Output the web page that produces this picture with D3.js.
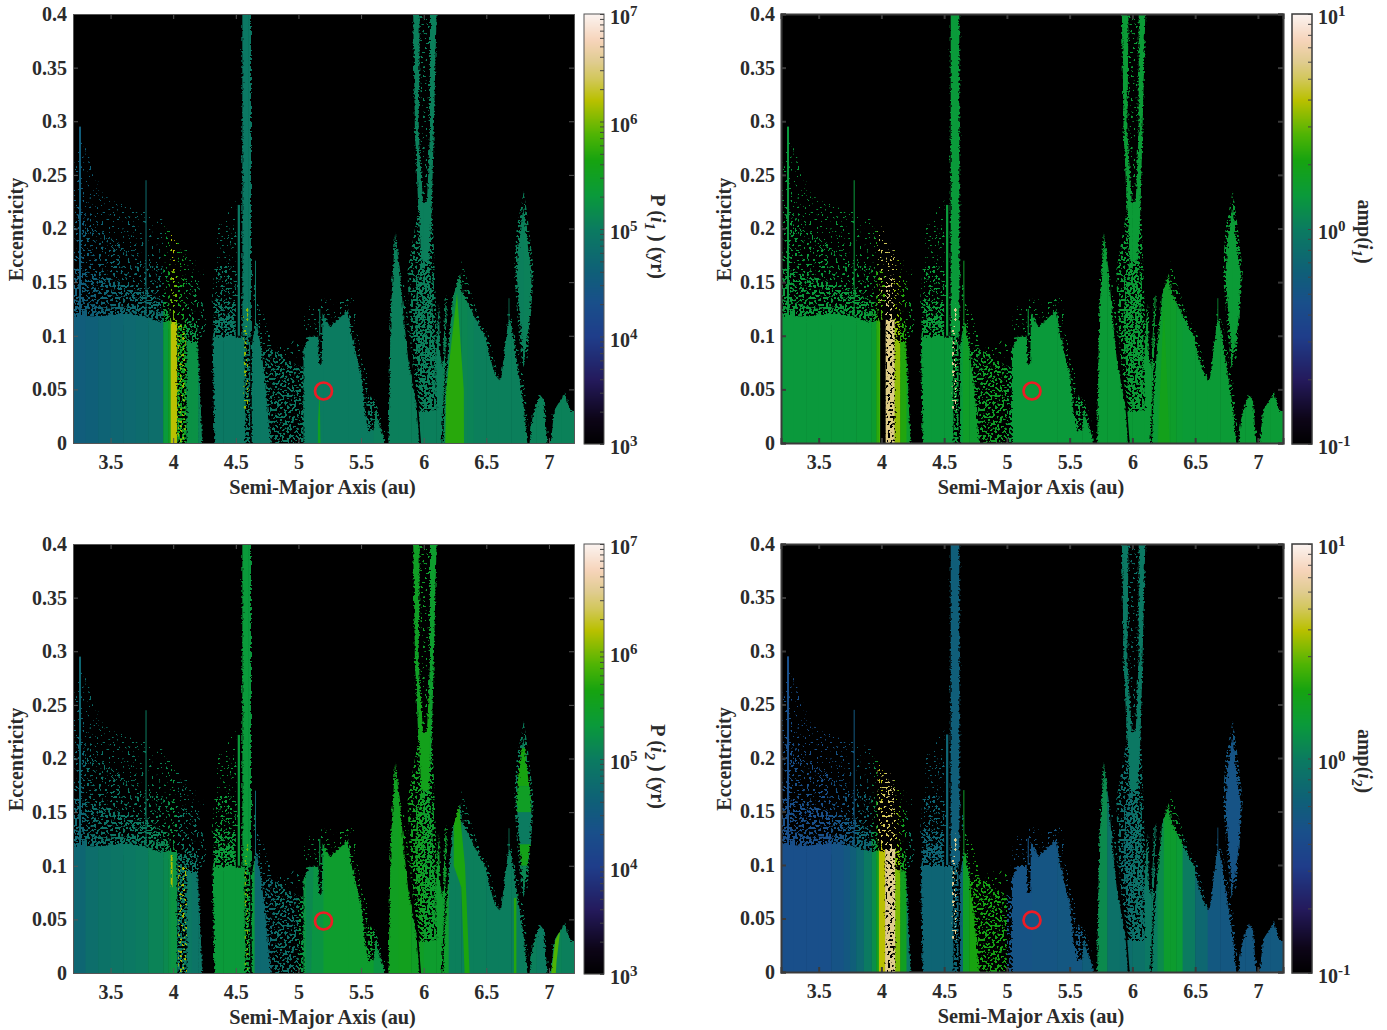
<!DOCTYPE html>
<html><head><meta charset="utf-8"><script src="https://cdn.jsdelivr.net/npm/d3@7"></script>
<style>html,body{margin:0;background:#fff}svg{display:block}text{font-family:"Liberation Serif",serif;font-weight:bold;fill:#2b2b2b}</style></head><body><div id="c"></div>
<script>
// ---------- data ----------
const xTicks=[3.5,4,4.5,5,5.5,6,6.5,7];
const yTicks=[0,.05,.1,.15,.2,.25,.3,.35,.4];
const aEdges=[3.2,3.3,3.4,3.5,3.6,3.7,3.8,3.92,3.96,3.98,4.03,4.1,4.15,4.2,4.3,4.4,4.5,4.6,4.65,4.7,4.8,5.0,5.2,5.4,5.6,5.7,5.8,5.9,6.0,6.1,6.15,6.2,6.25,6.3,6.35,6.4,6.5,6.6,6.7,6.8,6.9,7.0,7.1,7.2];
const period1=[3.6e4,4e4,4.5e4,5e4,5.5e4,6e4,6.5e4,2.1e5,3e5,1.6e6,3e5,1.7e5,1.7e5,1.2e5,9e4,9e4,9e4,9e4,9e4,9e4,9e4,1e5,1e5,1e5,1.1e5,1.1e5,1.1e5,1.1e5,1.1e5,1.1e5,1.2e5,1.3e5,1.3e5,1.3e5,1.2e5,1.1e5,1.1e5,1.1e5,1.1e5,1.15e5,1.15e5,1.15e5,1.15e5];
const amp1=[1.42,1.42,1.42,1.42,1.42,1.42,1.45,1.6,2.3,2.6,5.8,3.4,2.2,1.6,1.45,1.45,1.45,1.45,1.7,1.6,1.7,1.45,1.45,1.45,1.45,1.5,1.5,1.5,1.5,1.5,1.5,1.6,1.7,1.65,1.55,1.5,1.5,1.5,1.5,1.5,1.5,1.5,1.5];
const period2=[5e4,6.5e4,7.5e4,8.3e4,9e4,1e5,1.2e5,1.4e5,1.6e5,1.8e5,9e4,9e4,8e4,8e4,2.1e5,2.1e5,2.1e5,2e5,5.5e4,5.5e4,7e4,1.8e5,2.6e5,2.6e5,1.8e5,3.2e5,3.4e5,3e5,2.6e5,2.6e5,2.6e5,1.1e5,1.1e5,1.1e5,1.1e5,1.1e5,1.05e5,1.05e5,1.05e5,1.1e5,1e5,1.2e5,1.1e5];
const amp2=[.46,.46,.46,.46,.5,.55,.7,1.25,1.9,4,5.8,3.2,1.8,.95,.68,.68,.68,.68,1.7,2.1,2,.5,.52,.54,.62,1.2,.85,.8,.85,.95,1,1.2,1.6,1.6,1.5,1,.72,.55,.54,.54,.54,.55,.56];
const circleA=5.2, circleE=.048;

const solidRegions=[
 [[3.17,-.01],[3.17,.119],[3.4,.118],[3.655,.121],[3.8,.117],[3.921,.112],[4.033,.112],[4.033,-.01]],
 [[4.107,-.01],[4.107,.095],[4.19,.095],[4.21,.06],[4.235,-.01]],
 [[4.33,-.01],[4.315,.099],[4.57,.099],[4.575,-.01]],
 [[4.552,.1],[4.552,.41],[4.621,.41],[4.621,.1]],
 [[4.627,-.01],[4.627,.09],[4.655,.112],[4.668,.112],[4.7,.09],[4.74,.05],[4.786,-.01]],
 [[5.04,-.01],[5.04,.088],[5.09,.099],[5.158,.099],[5.165,.074],[5.185,.074],[5.192,.121],[5.252,.1085],[5.398,.124],[5.425,.099],[5.505,.062],[5.531,.028],[5.56,.01],[5.6,.012],[5.615,.03],[5.64,.018],[5.68,.006],[5.692,-.01]],
 [[5.718,-.01],[5.736,.121],[5.771,.1955],[5.811,.161],[5.838,.121],[5.877,.077],[5.944,.034],[5.97,-.01]],
 [[5.975,-.01],[5.955,.03],[6.1,.03],[6.09,.077],[6.122,.13],[6.13,.085],[6.15,.07],[6.175,.135],[6.186,.138],[6.17,.07],[6.148,.015],[6.14,-.01]],
 [[6.152,-.01],[6.17,.046],[6.197,.09],[6.236,.138],[6.29,.158],[6.31,.14],[6.42,.115],[6.49,.099],[6.55,.071],[6.6,.058],[6.62,.062],[6.676,.115],[6.69,.115],[6.742,.077],[6.8,.034],[6.835,-.01]],
 [[6.835,-.01],[6.87,.025],[6.928,.045],[6.96,.04],[6.995,-.01]],
 [[7.008,-.01],[7.04,.03],[7.128,.047],[7.17,.03],[7.23,.03],[7.23,-.01]],
 [[6.795,.22],[6.825,.19],[6.862,.158],[6.85,.12],[6.82,.09],[6.8,.08],[6.785,.09],[6.765,.12],[6.742,.16],[6.76,.19]],
 [[5.915,.41],[5.93,.29],[5.955,.225],[5.965,.21],[5.98,.17],[6.045,.17],[6.06,.21],[6.066,.225],[6.08,.29],[6.105,.41],[6.05,.41],[6.05,.29],[6.026,.225],[5.995,.225],[5.96,.29],[5.97,.41]]
];
const denseSpecks=[
 [[3.17,.115],[3.17,.135],[3.45,.126],[3.7,.128],[3.98,.118],[4.0,.105]],
 [[4.033,-.01],[4.033,.112],[4.11,.11],[4.107,-.01]],
 [[4.315,.095],[4.33,.115],[4.5,.122],[4.5,.095]],
 [[5.98,.03],[5.95,.07],[5.93,.12],[5.95,.15],[5.98,.17],[6.05,.17],[6.07,.13],[6.09,.09],[6.1,.03]],
 [[4.575,.125],[4.575,-.01],[4.615,-.01],[4.615,.125]]
];
const mediumSpecks=[
 [[3.17,.135],[3.17,.165],[3.45,.155],[3.7,.145],[3.97,.13],[3.97,.118],[3.45,.126]],
 [[4.107,.09],[4.1,.115],[4.19,.112],[4.24,-.01],[4.19,-.01]],
 [[4.315,.11],[4.34,.135],[4.5,.13],[4.5,.11]],
 [[4.74,.05],[4.7,.085],[4.75,.09],[4.95,.075],[5.04,.07],[5.04,-.01],[4.78,-.01]],
 [[5.87,.16],[5.9,.08],[5.97,.03],[6.12,.03],[6.1,.12],[6.07,.22],[5.96,.22]],
 [[5.53,.03],[5.56,.045],[5.62,.04],[5.7,-.01],[5.52,-.01]],
 [[6.742,.2],[6.72,.16],[6.76,.1],[6.79,.07],[6.83,.08],[6.88,.16],[6.83,.21],[6.8,.235]]
];
const sparseSpecks=[
 [[3.17,.16],[3.17,.23],[3.4,.2],[3.75,.17],[4.0,.16],[4.2,.15],[4.27,.11],[4.2,.09],[3.97,.115],[3.4,.15]],
 [[4.3,.12],[4.33,.165],[4.5,.165],[4.5,.12]],
 [[6.3,.17],[6.42,.125],[6.52,.1],[6.6,.06],[6.48,.09],[6.3,.14]],
 [[6.66,.13],[6.72,.11],[6.8,.06],[6.84,.01],[6.78,.02],[6.7,.08]],
 [[5.83,.16],[5.86,.13],[5.9,.09],[5.84,.12]]
];
const faintSpecks=[
 [[3.17,.23],[3.25,.29],[3.45,.23],[3.9,.21],[4.25,.16],[4.2,.14],[3.2,.2]],
 [[4.35,.2],[4.5,.23],[4.52,.13],[4.35,.13]],
 [[4.62,.17],[4.72,.12],[4.8,.09],[5.04,.1],[5.05,.125],[5.2,.135],[5.44,.135],[5.5,.08],[5.6,.05],[5.7,.01],[5.6,.01],[5.52,.03],[5.42,.1],[5.2,.09],[5.04,.08],[4.75,.08],[4.66,.1]],
 [[5.97,.41],[6.05,.41],[6.05,.23],[5.98,.23]]
];
// a, bottom e, top e, half width in au
const thinSpikes=[[3.256,.115,.295,.008],[3.783,.115,.245,.004],[4.524,.1,.222,.009],[4.657,.11,.17,.004],[5.17,.1,.125,.004],[6.681,.11,.135,.003]];
// black gaps that all panels have, or only the first amplitude panel
const cutsAll=[[[5.84,.125],[5.88,.08],[5.945,.036],[5.972,-.01],[5.985,-.01],[5.955,.036],[5.89,.08],[5.85,.125]]];
const cutsAmp1=[[[3.99,-.01],[3.99,.115],[4.035,.115],[4.035,-.01]]];
const overlays1=[{pts:[[6.17,-.01],[6.18,.05],[6.266,.14],[6.32,.05],[6.322,-.01]],v:5.2e5},{pts:[[5.155,-.01],[5.155,.02],[5.17,.05],[5.177,-.01]],v:3.2e5}];
const overlays2=[{pts:[[6.2,-.01],[6.25,.13],[6.3,-.01]],v:1.9}];
const overlays3=[{pts:[[5.96,.26],[5.96,.17],[6.05,.17],[6.05,.26]],v:3.6e5},{pts:[[6.24,.15],[6.28,.16],[6.33,.1],[6.37,-.01],[6.33,-.01],[6.3,.08],[6.24,.1]],v:4.6e5},{pts:[[7.008,-.01],[7.05,.03],[7.09,.04],[7.06,.01],[7.05,-.01]],v:7.5e5},{pts:[[6.72,-.01],[6.72,.07],[6.74,.07],[6.74,-.01]],v:5e5},{pts:[[6.74,.21],[6.74,.174],[6.86,.174],[6.86,.21]],v:4.4e5},{pts:[[6.74,.15],[6.74,.12],[6.86,.12],[6.86,.15]],v:1e5},{pts:[[6.74,.12],[6.74,.1],[6.86,.1],[6.86,.12]],v:3.8e5},{pts:[[6.74,.174],[6.74,.15],[6.86,.15],[6.86,.174]],v:3e5},{pts:[[6.74,.1],[6.74,.07],[6.86,.07],[6.86,.1]],v:1.3e5},{pts:[[5.06,-.01],[5.06,.1],[5.12,.1],[5.1,-.01]],v:1.4e5}];
const overlays4=[{pts:[[6.74,.24],[6.74,.07],[6.87,.07],[6.87,.24]],v:.5},{pts:[[4.55,.1],[4.55,.41],[4.63,.41],[4.63,.1]],v:.62},{pts:[[5.9,.17],[5.9,.4],[6.12,.4],[6.12,.17]],v:.95},{pts:[[3.75,-.01],[3.75,.13],[3.8,.13],[3.8,-.01]],v:.62},{pts:[[3.8,-.01],[3.8,.13],[3.86,.13],[3.86,-.01]],v:.74},{pts:[[3.86,-.01],[3.86,.13],[3.92,.13],[3.92,-.01]],v:.98}];
const accents1=[{pts:[[4.03,0],[4.03,.11],[4.1,.11],[4.1,0]],v:1.2e6,d:"sparse"},{pts:[[3.98,.11],[3.98,.16],[4.03,.16],[4.03,.11]],v:9e5,d:"sparse"},{pts:[[4.56,.03],[4.56,.13],[4.6,.13],[4.6,.03]],v:1.2e6,d:"sparse"}];
const accents2=[{pts:[[4.56,.03],[4.56,.13],[4.6,.13],[4.6,.03]],v:6,d:"sparse"},{pts:[[3.97,.13],[3.97,.21],[4.12,.17],[4.12,.13]],v:5,d:"faint"},{pts:[[4.035,0],[4.035,.115],[4.105,.115],[4.105,0]],v:5.8,d:"full"}];
const accents3=[{pts:[[4.04,0],[4.04,.1],[4.11,.1],[4.11,0]],v:1.4e6,d:"sparse"},{pts:[[3.98,.08],[3.98,.11],[3.995,.11],[3.995,.08]],v:1.5e6,d:"full"},{pts:[[4.57,0],[4.57,.12],[4.6,.12],[4.6,0]],v:1e6,d:"sparse"}];
const accents4=[{pts:[[4.56,.03],[4.56,.13],[4.6,.13],[4.6,.03]],v:6,d:"sparse"},{pts:[[3.97,.12],[3.97,.19],[4.12,.17],[4.12,.12]],v:5,d:"sparse"},{pts:[[4.03,0],[4.03,.115],[4.11,.115],[4.11,0]],v:6,d:"full"}];
const colorStops=[[0,"#000000"],[.06,"#0d0518"],[.15,"#241a5c"],[.25,"#1f3d8a"],[.33,"#194f8a"],[.4,"#0f5f78"],[.5,"#0b7b60"],[.58,"#0a9a3a"],[.66,"#16a310"],[.72,"#4fb404"],[.8,"#b9c000"],[.85,"#d2c75a"],[.89,"#e0cc90"],[.94,"#f6d4ba"],[1,"#fbf3f0"]];
const panels=[
 {id:1,x:73,y:14,w:501,h:429,vals:period1,dom:[1e3,1e7],cuts:[],ov:overlays1,ac:accents1,bx:584,lx:651,sub:"1",kind:"P",strong:false},
 {id:2,x:781,y:14,w:502,h:429,vals:amp1,dom:[.1,10],cuts:cutsAmp1,ov:overlays2,ac:accents2,bx:1292,lx:1358,sub:"1",kind:"amp",strong:true},
 {id:3,x:73,y:544,w:501,h:429,vals:period2,dom:[1e3,1e7],cuts:[],ov:overlays3,ac:accents3,bx:584,lx:651,sub:"2",kind:"P",strong:false},
 {id:4,x:781,y:544,w:502,h:428,vals:amp2,dom:[.1,10],cuts:[],ov:overlays4,ac:accents4,bx:1292,lx:1358,sub:"2",kind:"amp",strong:true}
];
// ---------- drawing ----------
const W=1387,H=1030;
const svg=d3.select("#c").append("svg").attr("width",W).attr("height",H);
const defs=svg.append("defs");
const cmap=d3.scaleLinear().domain(colorStops.map(d=>d[0])).range(colorStops.map(d=>d[1])).interpolate(d3.interpolateRgb);
function speckFilter(id,thr,seed){
 const f=defs.append("filter").attr("id",id).attr("filterUnits","userSpaceOnUse").attr("x",-10).attr("y",-10).attr("width",560).attr("height",460).attr("color-interpolation-filters","sRGB");
 f.append("feTurbulence").attr("type","fractalNoise").attr("baseFrequency",.42).attr("numOctaves",1).attr("seed",seed).attr("result","n");
 const s=30;
 f.append("feColorMatrix").attr("in","n").attr("type","matrix").attr("values",`0 0 0 0 1 0 0 0 0 1 0 0 0 0 1 ${s} 0 0 0 ${-s*thr}`).attr("result","m");
 f.append("feComposite").attr("in","SourceGraphic").attr("in2","m").attr("operator","in");
}
speckFilter("full",.4,2);speckFilter("dense",.47,2);speckFilter("medium",.53,5);speckFilter("sparse",.6,8);speckFilter("faint",.66,11);
const rough=defs.append("filter").attr("id","rough").attr("filterUnits","userSpaceOnUse").attr("x",-10).attr("y",-10).attr("width",560).attr("height",460).attr("color-interpolation-filters","sRGB");
rough.append("feTurbulence").attr("type","fractalNoise").attr("baseFrequency",.4).attr("numOctaves",2).attr("seed",4).attr("result","n");
rough.append("feDisplacementMap").attr("in","SourceGraphic").attr("in2","n").attr("scale",5).attr("xChannelSelector","R").attr("yChannelSelector","G");

panels.forEach(p=>{
 const x=d3.scaleLinear().domain([3.2,7.2]).range([0,p.w]);
 const y=d3.scaleLinear().domain([0,.4]).range([p.h,0]);
 const line=d3.line().x(d=>x(d[0])).y(d=>y(d[1])).curve(d3.curveLinearClosed);
 const cs=d3.scaleLog().domain(p.dom).range([0,1]);
 const col=v=>cmap(cs(v));
 const g=svg.append("g").attr("transform",`translate(${p.x},${p.y})`);
 g.append("rect").attr("width",p.w).attr("height",p.h).attr("fill","#000");
 defs.append("clipPath").attr("id","plot"+p.id).append("rect").attr("width",p.w).attr("height",p.h);
 const addMask=(id,build)=>{const m=defs.append("mask").attr("id",id).attr("maskUnits","userSpaceOnUse").attr("x",0).attr("y",0).attr("width",p.w).attr("height",p.h).style("mask-type","luminance");build(m);};
 const cuts=m=>{m.selectAll("path.cut").data(cutsAll.concat(p.cuts)).join("path").attr("class","cut").attr("d",line).attr("fill","#000");};
 addMask("solid"+p.id,m=>{
  m.append("g").attr("filter","url(#rough)").selectAll("path").data(solidRegions).join("path").attr("d",line).attr("fill","#fff");
  m.append("g").selectAll("rect").data(thinSpikes).join("rect").attr("x",d=>x(d[0]-d[3])).attr("width",d=>x(d[0]+d[3])-x(d[0]-d[3])).attr("y",d=>y(d[2])).attr("height",d=>y(d[1])-y(d[2])).attr("fill","#fff");
  cuts(m);
 });
 addMask("speck"+p.id,m=>{
  [["dense",denseSpecks],["medium",mediumSpecks],["sparse",sparseSpecks],["faint",faintSpecks]].forEach(([f,list])=>{
   m.append("g").attr("filter",`url(#${f})`).selectAll("path").data(list).join("path").attr("d",line).attr("fill","#fff");
  });
  cuts(m);
 });
 const columns=sel=>sel.selectAll("rect").data(p.vals).join("rect")
   .attr("x",(d,i)=>x(aEdges[i])).attr("width",(d,i)=>x(aEdges[i+1])-x(aEdges[i])+.5)
   .attr("y",0).attr("height",p.h).attr("fill",d=>col(d));
 columns(g.append("g").attr("mask",`url(#speck${p.id})`));
 const sg=g.append("g").attr("mask",`url(#solid${p.id})`);
 columns(sg.append("g"));
 sg.append("g").selectAll("path").data(p.ov).join("path").attr("d",d=>line(d.pts)).attr("fill",d=>col(d.v));
 g.append("g").attr("clip-path",`url(#plot${p.id})`).selectAll("path").data(p.ac).join("path").attr("d",d=>line(d.pts)).attr("fill",d=>col(d.v)).attr("filter",d=>`url(#${d.d})`);
 g.append("circle").attr("cx",x(circleA)).attr("cy",y(circleE)-.5).attr("r",8.5).attr("fill","none").attr("stroke","#ee1c25").attr("stroke-width",2.7);
 const ac=p.strong?"#3a3a3a":"#555", sw=p.strong?2:1;
 const style=a=>{a.selectAll("path,line").attr("stroke",ac).attr("stroke-width",sw);a.selectAll("text").attr("font-size",20).attr("fill","#2b2b2b").attr("font-family","Liberation Serif").attr("font-weight","bold");};
 g.append("g").attr("transform",`translate(0,${p.h})`).call(d3.axisBottom(x).tickValues(xTicks).tickSize(-5).tickPadding(12).tickFormat(d3.format("~g"))).call(style);
 g.append("g").call(d3.axisTop(x).tickValues(xTicks).tickSize(-5).tickFormat("")).call(style);
 g.append("g").call(d3.axisLeft(y).tickValues(yTicks).tickSize(-5).tickPadding(6).tickFormat(d3.format("~g"))).call(style);
 g.append("g").attr("transform",`translate(${p.w},0)`).call(d3.axisRight(y).tickValues(yTicks).tickSize(-5).tickFormat("")).call(style);
 g.append("text").attr("x",p.w/2-1).attr("y",p.h+51).attr("text-anchor","middle").attr("font-size",20.3).text("Semi-Major Axis (au)");
 g.append("text").attr("transform",`translate(${-50},${p.h/2+1}) rotate(-90)`).attr("text-anchor","middle").attr("font-size",20).text("Eccentricity");
 // colorbar
 const bg=svg.append("g").attr("transform",`translate(${p.bx},${p.y})`);
 const bw=20,bh=p.h+1;
 const by=d3.scaleLog().domain(p.dom).range([bh,0]);
 bg.append("g").selectAll("rect").data(d3.range(0,bh)).join("rect").attr("x",0).attr("width",bw).attr("y",d=>d).attr("height",1.2).attr("fill",d=>cmap(1-d/bh));
 bg.append("rect").attr("width",bw).attr("height",bh).attr("fill","none").attr("stroke",ac).attr("stroke-width",p.strong?1.5:1);
 const axis=bg.append("g").attr("transform",`translate(${bw},0)`).call(d3.axisLeft(by).tickSize(4).tickFormat(""));
 axis.selectAll("path").remove();axis.selectAll("line").attr("stroke","#444").attr("stroke-width",1);
 const logs=p.kind==="P"?[3,4,5,6,7]:[-1,0,1];
 const majors=bg.append("g").selectAll("text").data(logs).join("text").attr("x",bw+6).attr("y",d=>by(Math.pow(10,d))+10).attr("font-size",20);
 majors.append("tspan").text("10");
 majors.append("tspan").attr("dy",-8).attr("font-size",15).text(d=>d);
 const t=svg.append("text").attr("transform",`translate(${p.lx},${p.y+p.h/2+(p.kind==="P"?8:3)}) rotate(90)`).attr("text-anchor","middle").attr("font-size",20);
 t.append("tspan").text(p.kind==="P"?"P (":"amp(");
 t.append("tspan").attr("font-style","italic").text("i");
 t.append("tspan").attr("font-style","italic").attr("dy",6).attr("font-size",15).text(p.sub);
 t.append("tspan").attr("dy",-6).text(p.kind==="P"?" ) (yr)":")");
});
</script></body></html>
